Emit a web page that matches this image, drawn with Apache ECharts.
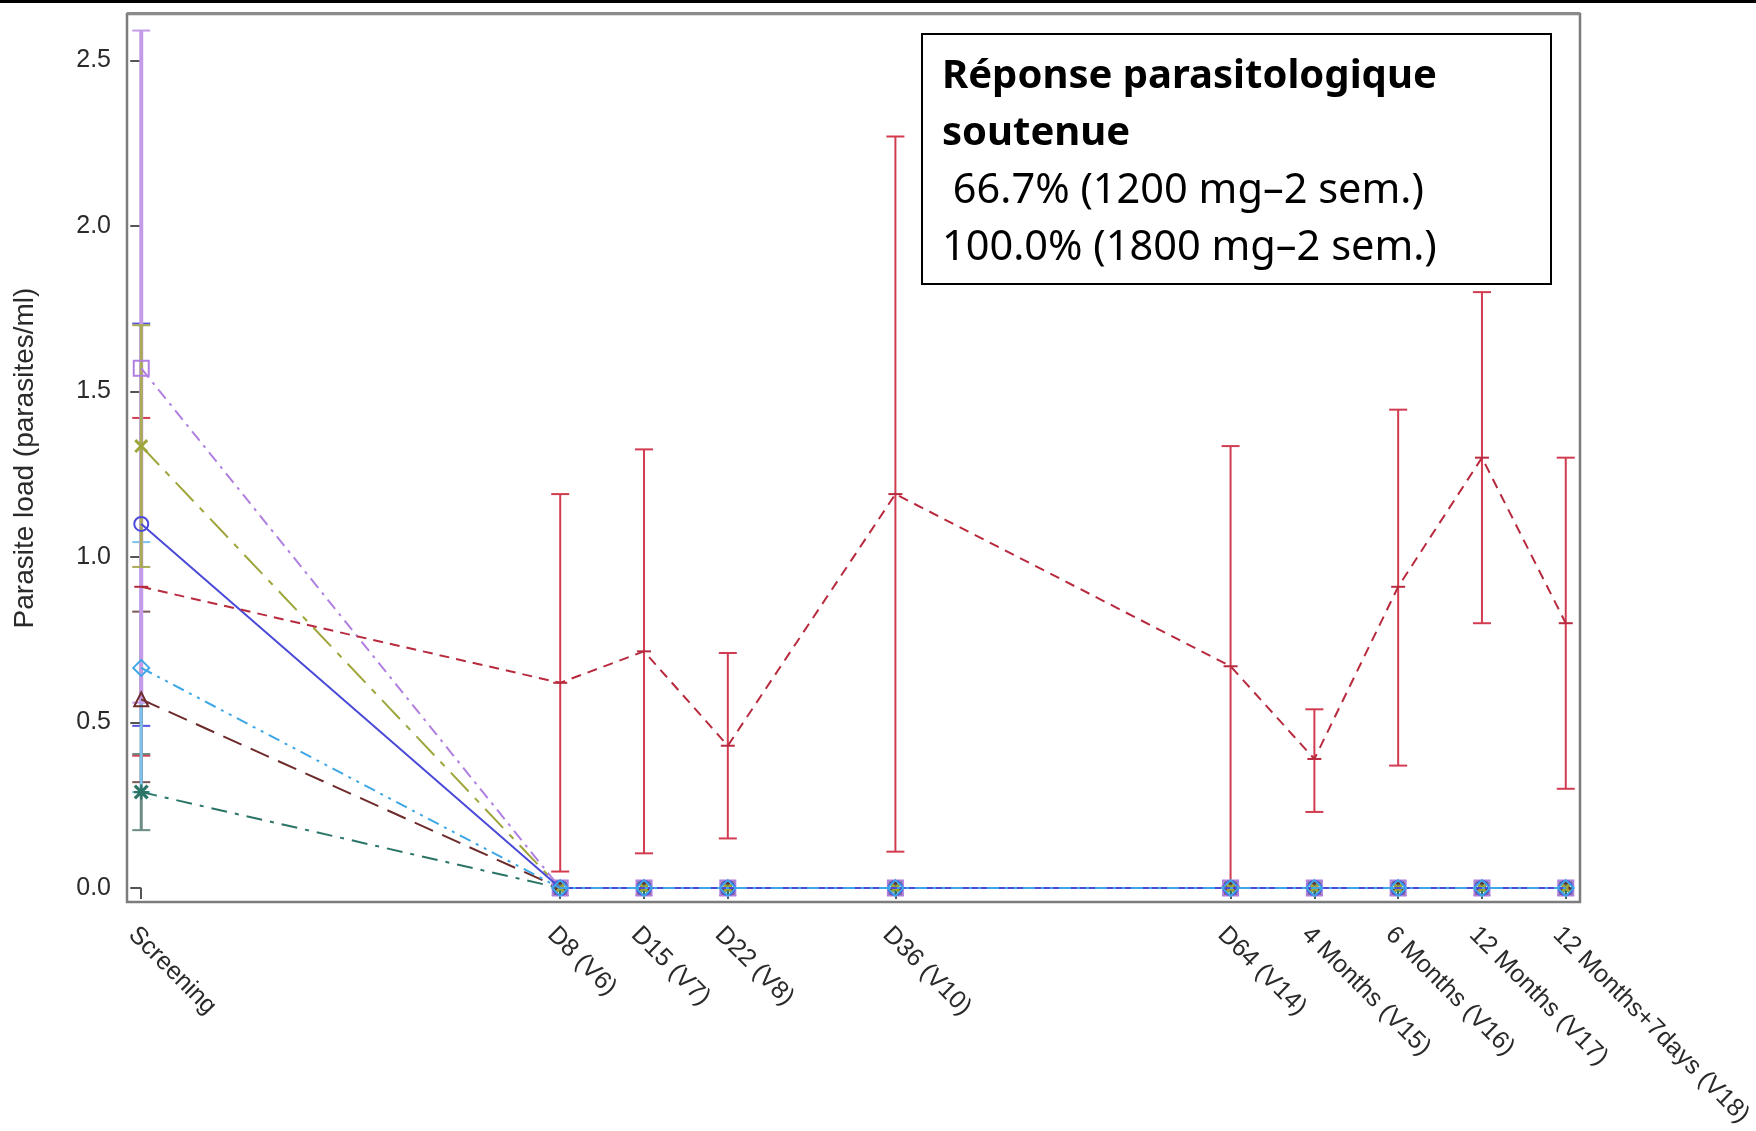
<!DOCTYPE html>
<html>
<head>
<meta charset="utf-8">
<script src="https://cdn.jsdelivr.net/npm/echarts@6/dist/echarts.min.js"></script>
<style>
  html, body { margin: 0; padding: 0; background: #ffffff; }
  #chart { width: 1756px; height: 1131px; }
</style>
</head>
<body>
<div id="chart"></div>
<script>
// Visits and their place on the follow-up scale
const visitLabels = ['Screening', 'D8 (V6)', 'D15 (V7)', 'D22 (V8)', 'D36 (V10)', 'D64 (V14)',
  '4 Months (V15)', '6 Months (V16)', '12 Months (V17)', '12 Months+7days (V18)'];
const visitPos = [0, 5, 6, 7, 9, 13, 14, 15, 16, 17];
const yTicks = [0, 0.5, 1.0, 1.5, 2.0, 2.5];

// Parasite load (mean) and error-bar limits per subject
const purpleMean = [1.57, 0, 0, 0, 0, 0, 0, 0, 0, 0];
const purpleLow  = [0.56, null, null, null, null, null, null, null, null, null];
const purpleHigh = [2.59, null, null, null, null, null, null, null, null, null];

const oliveMean = [1.335, 0, 0, 0, 0, 0, 0, 0, 0, 0];
const oliveLow  = [0.97, null, null, null, null, null, null, null, null, null];
const oliveHigh = [1.70, null, null, null, null, null, null, null, null, null];

const blueMean = [1.10, 0, 0, 0, 0, 0, 0, 0, 0, 0];
const blueLow  = [0.49, null, null, null, null, null, null, null, null, null];
const blueHigh = [1.705, null, null, null, null, null, null, null, null, null];

const cyanMean = [0.665, 0, 0, 0, 0, 0, 0, 0, 0, 0];
const cyanLow  = [0.29, null, null, null, null, null, null, null, null, null];
const cyanHigh = [1.045, null, null, null, null, null, null, null, null, null];

const brownMean = [0.57, 0, 0, 0, 0, 0, 0, 0, 0, 0];
const brownLow  = [0.32, null, null, null, null, null, null, null, null, null];
const brownHigh = [0.835, null, null, null, null, null, null, null, null, null];

const tealMean = [0.29, 0, 0, 0, 0, 0, 0, 0, 0, 0];
const tealLow  = [0.175, null, null, null, null, null, null, null, null, null];
const tealHigh = [0.405, null, null, null, null, null, null, null, null, null];

const redMean = [0.91, 0.62, 0.715, 0.43, 1.19, 0.67, 0.39, 0.91, 1.30, 0.80];
const redLow  = [0.40, 0.05, 0.105, 0.15, 0.11, 0.005, 0.23, 0.37, 0.80, 0.30];
const redHigh = [1.42, 1.19, 1.325, 0.71, 2.27, 1.335, 0.54, 1.445, 1.80, 1.30];

const boxLines = ['Réponse parasitologique', 'soutenue', ' 66.7% (1200 mg–2 sem.)', '100.0% (1800 mg–2 sem.)'];

// Symbol shapes drawn as filled outlines
const xPath = 'path://M0,1.5L1.5,0L10,8.5L8.5,10ZM8.5,0L10,1.5L1.5,10L0,8.5Z';
const starPath = 'path://M0,1.5L1.5,0L10,8.5L8.5,10ZM8.5,0L10,1.5L1.5,10L0,8.5ZM4.3,0H5.7V10H4.3ZM0,4.3H10V5.7H0Z';

function pairs(values) {
  return visitPos.map((x, i) => [x, values[i]]);
}

function errorBars(name, color, width, low, high, z) {
  const data = [];
  visitPos.forEach((x, i) => { if (low[i] != null) data.push([x, low[i], high[i]]); });
  return {
    type: 'custom', name: name + ' bars', z: z, silent: true, animation: false,
    data: data,
    encode: { x: 0, y: [1, 2] },
    renderItem: function (params, api) {
      const x = api.value(0);
      const lo = api.coord([x, api.value(1)]);
      const hi = api.coord([x, api.value(2)]);
      const hw = 9;
      return {
        type: 'group',
        children: [
          { type: 'line', shape: { x1: lo[0], y1: lo[1], x2: hi[0], y2: hi[1] }, style: { stroke: color, lineWidth: width } },
          { type: 'line', shape: { x1: lo[0] - hw, y1: lo[1], x2: lo[0] + hw, y2: lo[1] }, style: { stroke: color, lineWidth: 2 } },
          { type: 'line', shape: { x1: hi[0] - hw, y1: hi[1], x2: hi[0] + hw, y2: hi[1] }, style: { stroke: color, lineWidth: 2 } }
        ]
      };
    }
  };
}

function profile(name, mean, color, dash, symbol, size, hollow, z) {
  return {
    type: 'line', name: name, z: z, animation: false, silent: true,
    data: pairs(mean),
    symbol: symbol, symbolSize: size,
    lineStyle: { color: color, width: 2, type: dash },
    itemStyle: hollow
      ? { color: 'rgba(255,255,255,0)', borderColor: color, borderWidth: 2 }
      : { color: color, borderWidth: 0 }
  };
}

const chart = echarts.init(document.getElementById('chart'), null, { renderer: 'canvas' });

chart.setOption({
  backgroundColor: '#ffffff',
  animation: false,
  grid: {
    left: 127, right: 176, top: 14, bottom: 229,
    outerBoundsMode: 'none', containLabel: false,
    show: true, borderColor: '#7c7c7c', borderWidth: 2.5, backgroundColor: 'transparent'
  },
  xAxis: {
    type: 'value', min: -0.17, max: 17.17,
    splitLine: { show: false },
    axisLine: { show: false },
    axisTick: { show: true, customValues: visitPos, length: 11, lineStyle: { color: '#555', width: 2 } },
    axisLabel: {
      customValues: visitPos, rotate: -45, margin: 20, verticalAlign: 'top',
      fontFamily: 'Liberation Sans', fontSize: 25, color: '#2a2a2a',
      formatter: function (v) {
        const i = visitPos.findIndex(p => Math.abs(p - v) < 1e-6);
        return i >= 0 ? visitLabels[i] : '';
      }
    }
  },
  yAxis: {
    type: 'value', min: -0.042, max: 2.64,
    splitLine: { show: false },
    axisLine: { show: false },
    axisTick: { show: true, customValues: yTicks, length: 11, lineStyle: { color: '#555', width: 2 } },
    axisLabel: {
      customValues: yTicks, margin: 16,
      fontFamily: 'Liberation Sans', fontSize: 25, color: '#2a2a2a',
      formatter: function (v) { return v.toFixed(1); }
    },
    name: 'Parasite load (parasites/ml)',
    nameLocation: 'middle', nameRotate: 90, nameGap: 88,
    nameTextStyle: { fontFamily: 'Liberation Sans', fontSize: 28, color: '#2a2a2a' }
  },
  graphic: [
    { type: 'rect', z: 100, shape: { x: 0, y: 0, width: 1756, height: 3 }, style: { fill: '#000' } },
    { type: 'rect', z: 100, shape: { x: 127, y: 12, width: 1453, height: 3 }, style: { fill: '#8a8a8a' } },
    { type: 'rect', z: 100, shape: { x: 922, y: 34, width: 629, height: 250 }, style: { fill: '#fff', stroke: '#000', lineWidth: 2 } },
    { type: 'text', z: 101, x: 942, y: 77, style: { text: boxLines[0], font: 'bold 40px "Noto Sans"', fill: '#000', verticalAlign: 'middle' } },
    { type: 'text', z: 101, x: 942, y: 134, style: { text: boxLines[1], font: 'bold 40px "Noto Sans"', fill: '#000', verticalAlign: 'middle' } },
    { type: 'text', z: 101, x: 942, y: 191, style: { text: boxLines[2], font: '41.5px "Noto Sans"', fill: '#000', verticalAlign: 'middle' } },
    { type: 'text', z: 101, x: 942, y: 248, style: { text: boxLines[3], font: '41.5px "Noto Sans"', fill: '#000', verticalAlign: 'middle' } }
  ],
  series: [
    errorBars('red', '#d23c50', 2, redLow, redHigh, 1),
    errorBars('blue', '#5656e0', 3, blueLow, blueHigh, 2),
    errorBars('teal', '#6a8c84', 3, tealLow, tealHigh, 3),
    errorBars('brown', '#7a5858', 3, brownLow, brownHigh, 4),
    errorBars('cyan', '#7cc2ec', 3, cyanLow, cyanHigh, 5),
    errorBars('purple', '#c39be8', 4, purpleLow, purpleHigh, 6),
    errorBars('olive', '#a9ab55', 3, oliveLow, oliveHigh, 7),

    profile('teal', tealMean, '#2b7468', [16, 8, 4, 8], starPath, 15, false, 10),
    profile('brown', brownMean, '#6e2b2b', [20, 10], 'triangle', 14, true, 10),
    profile('olive', oliveMean, '#9ea53a', [26, 9, 6, 9], xPath, 14, false, 10),
    profile('purple', purpleMean, '#b07fe0', [12, 6, 3, 6], 'rect', 15, true, 10),
    profile('blue', blueMean, '#4a4ad8', 'solid', 'circle', 14, true, 11),
    profile('cyan', cyanMean, '#3fa7e6', [12, 6, 3, 6, 3, 6], 'diamond', 16, true, 12),
    {
      type: 'line', name: 'red', z: 13, animation: false, silent: true,
      data: pairs(redMean),
      symbol: 'rect', symbolSize: [14, 2],
      lineStyle: { color: '#b82a3e', width: 2, type: [10, 7] },
      itemStyle: { color: '#b82a3e' }
    }
  ]
});
</script>
</body>
</html>
